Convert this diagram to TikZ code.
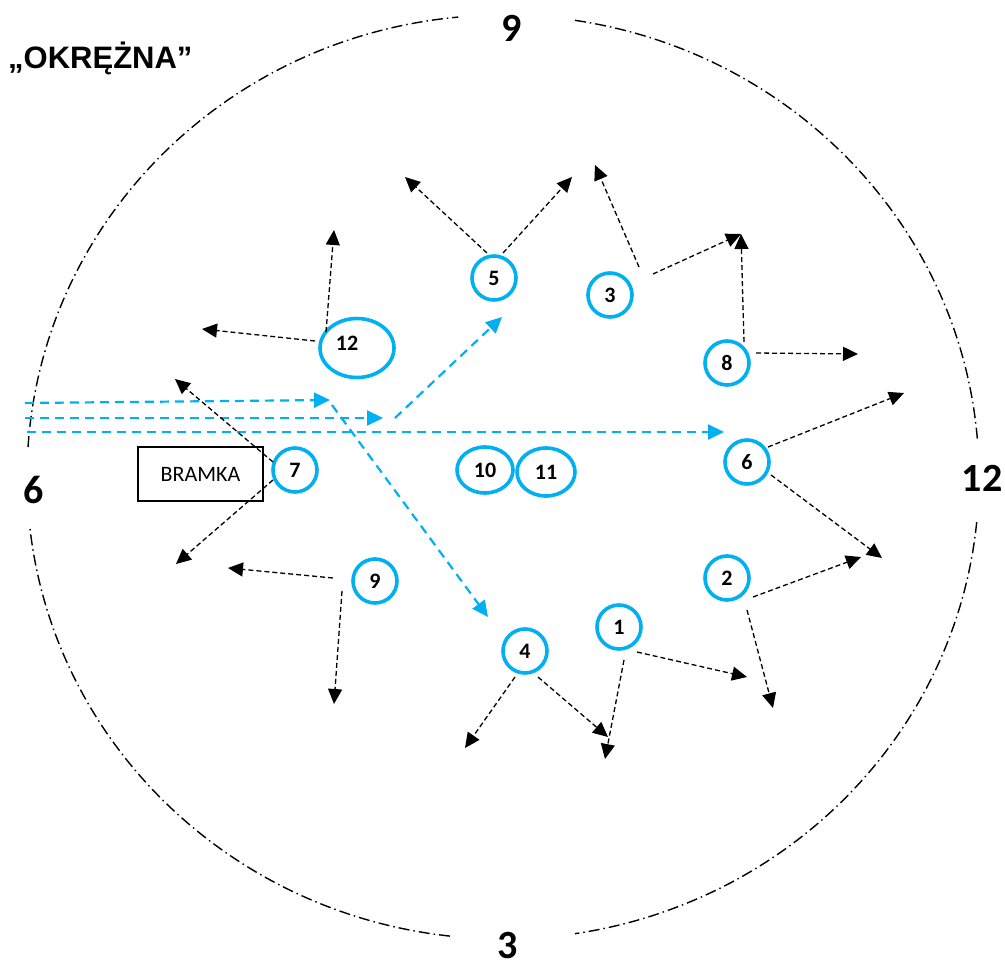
\documentclass[tikz,border=0pt]{standalone}
\usepackage{fontspec}
\setmainfont{Carlito}
\newfontfamily\arialf{Liberation Sans}
\usetikzlibrary{arrows.meta,shapes.geometric}
\definecolor{cblue}{HTML}{00B0F0}
\begin{document}
\begin{tikzpicture}[x=1pt,y=-1pt,
  ring/.style={draw=cblue, line width=3.6pt, circle, minimum size=44pt, inner sep=0pt, font=\fontsize{22}{22}\selectfont\bfseries},
  ell/.style={draw=cblue, line width=3.6pt, ellipse, inner sep=0pt, font=\fontsize{22}{22}\selectfont\bfseries},
  num/.style={font=\fontsize{22}{22}\selectfont\bfseries, inner sep=0pt},
  blk/.style={line width=1.3pt, dash pattern=on 5pt off 3pt, -{Triangle[length=15pt,width=14pt]}},
  blu/.style={draw=cblue, line width=2.2pt, dash pattern=on 9pt off 6pt, -{Triangle[length=16pt,width=15pt]}},
  big/.style={font=\fontsize{40}{40}\selectfont\bfseries, inner sep=0pt},
  bound/.style={line width=1.4pt, dash pattern=on 11pt off 4pt on 1.5pt off 4pt}
]
\useasboundingbox (0,0) rectangle (1005,967);

% outer dash-dot ellipse with gaps for the labels
\coordinate (C) at (503,477);
\foreach \a/\b in {5.6/81.3, 96.4/173.8, 183.7/264.6, 278.7/355.4}{
  \draw[bound] ([shift={(\a:476 and 462)}]C) arc[start angle=\a, end angle=\b, x radius=476, y radius=462];
}

% title and side labels
\node[anchor=west, inner sep=0pt, font=\arialf\fontsize{31}{31}\selectfont\bfseries] (title) at (8,58) {„OKRĘŻNA”};
\node[big] (l9) at (512,28) {9};
\node[big] (l3) at (508,946) {3};
\node[big] (l6) at (34,490) {6};
\node[big] (l12) at (982,478) {12};

% players
\node[ring] (n5) at (494,278) {5};
\node[ring] (n3) at (610,295) {3};
\node[ring] (n8) at (727,363) {8};
\node[ring] (n6) at (747,462) {6};
\node[ring] (n7) at (295,470) {7};
\node[ring] (n9) at (375,581) {9};
\node[ring] (n2) at (727,578) {2};
\node[ring] (n1) at (619,627) {1};
\node[ring] (n4) at (525,651) {4};
\node[ell, minimum width=74pt, minimum height=59pt] (n12) at (357,348) {};
\node[num] (t12) at (347,343) {12};
\node[ell, minimum width=56pt, minimum height=46pt] (n10) at (485,470) {10};
\node[ell, minimum width=58pt, minimum height=48pt] (n11) at (546,472) {11};

% gate
\node[draw, line width=1.3pt, minimum width=125pt, minimum height=54pt, inner sep=0pt, font=\fontsize{22}{22}\selectfont] (bramka) at (200.5,474) {BRAMKA};

% blue passes
\coordinate (b1s) at (25,403);  \coordinate (b1e) at (330,400);
\coordinate (b1t) at (332,405); \coordinate (b1f) at (488,617);
\coordinate (b2s) at (25,418);  \coordinate (b2e) at (383,418);
\coordinate (b2t) at (395,418); \coordinate (b2f) at (502,317);
\coordinate (b3s) at (27,432);  \coordinate (b3e) at (724,432);
\draw[blu] (b1s) -- (b1e);
\draw[blu] (b1t) -- (b1f);
\draw[blu] (b2s) -- (b2e);
\draw[blu] (b2t) -- (b2f);
\draw[blu] (b3s) -- (b3e);

% black runs
\coordinate (s12a) at (326,332); \coordinate (e12a) at (334,230);
\coordinate (s12b) at (315,341); \coordinate (e12b) at (202,329);
\coordinate (s7a) at (273,462);  \coordinate (e7a) at (175,379);
\coordinate (s7b) at (273,480);  \coordinate (e7b) at (176,564);
\coordinate (s9a) at (333,578);  \coordinate (e9a) at (228,568);
\coordinate (s9b) at (342,591);  \coordinate (e9b) at (334,704);
\coordinate (s5a) at (487,253);  \coordinate (e5a) at (405,177);
\coordinate (s5b) at (503,253);  \coordinate (e5b) at (572,177);
\coordinate (s3a) at (639,267);  \coordinate (e3a) at (595,165);
\coordinate (s3b) at (653,274);  \coordinate (star) at (741,234);
\coordinate (s8a) at (744,342);
\coordinate (s8b) at (756,353);  \coordinate (e8b) at (858,354);
\coordinate (s6a) at (768,447);  \coordinate (e6a) at (904,393);
\coordinate (s6b) at (771,475);  \coordinate (e6b) at (882,558);
\coordinate (s2a) at (753,597);  \coordinate (e2a) at (861,557);
\coordinate (s2b) at (747,610);  \coordinate (e2b) at (773,708);
\coordinate (s1a) at (637,652);  \coordinate (e1a) at (747,677);
\coordinate (s1b) at (624,660);  \coordinate (e1b) at (605,759);
\coordinate (s4a) at (515,677);  \coordinate (e4a) at (465,748);
\coordinate (s4b) at (538,677);  \coordinate (e4b) at (608,737);

\draw[blk] (s12a) -- (e12a);
\draw[blk] (s12b) -- (e12b);
\draw[blk] (s7a) -- (e7a);
\draw[blk] (s7b) -- (e7b);
\draw[blk] (s9a) -- (e9a);
\draw[blk] (s9b) -- (e9b);
\draw[blk] (s5a) -- (e5a);
\draw[blk] (s5b) -- (e5b);
\draw[blk] (s3a) -- (e3a);
\draw[blk] (s3b) -- (star);
\draw[blk] (s8a) -- (star);
\draw[blk] (s8b) -- (e8b);
\draw[blk] (s6a) -- (e6a);
\draw[blk] (s6b) -- (e6b);
\draw[blk] (s2a) -- (e2a);
\draw[blk] (s2b) -- (e2b);
\draw[blk] (s1a) -- (e1a);
\draw[blk] (s1b) -- (e1b);
\draw[blk] (s4a) -- (e4a);
\draw[blk] (s4b) -- (e4b);
\end{tikzpicture}
\end{document}
